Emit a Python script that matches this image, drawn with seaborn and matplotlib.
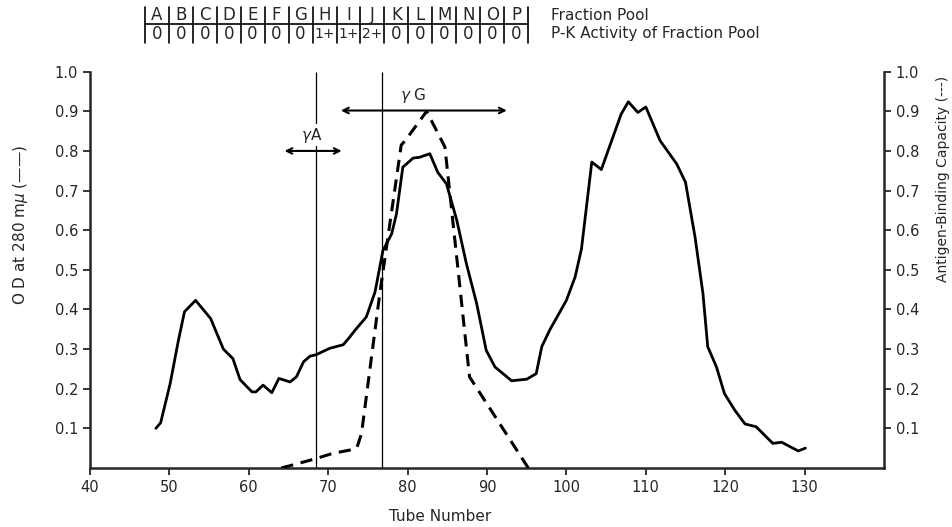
import numpy as np
import pandas as pd
import matplotlib.pyplot as plt
import seaborn as sns
from matplotlib.transforms import blended_transform_factory
from matplotlib.lines import Line2D

# OD at 280 m-mu (solid curve)
tube_od = [48.3, 48.9, 50.1, 51.1, 51.9, 53.3, 55.2, 56.8, 58.0, 58.9,
           60.4, 60.9, 61.8, 62.9, 63.8, 65.2, 66.0, 66.9, 67.7, 68.5,
           70.2, 71.9, 72.7, 73.4, 74.8, 75.9, 76.9, 78.0, 78.6, 79.4,
           80.7, 81.5, 82.8, 83.8, 84.9, 86.2, 87.4, 88.7, 89.9, 91.0,
           93.1, 95.0, 96.2, 96.9, 97.9, 100.0, 101.1, 101.9, 103.2, 104.4,
           106.9, 107.8, 109.0, 110.0, 111.8, 113.9, 115.0, 116.2, 117.2, 117.8,
           118.9, 119.9, 121.2, 122.5, 123.9, 126.0, 127.1, 129.2, 130.1]
od_280 = [0.10, 0.114, 0.213, 0.318, 0.394, 0.423, 0.377, 0.30, 0.276, 0.223,
          0.192, 0.192, 0.209, 0.19, 0.226, 0.217, 0.23, 0.268, 0.282, 0.286,
          0.302, 0.311, 0.33, 0.348, 0.381, 0.444, 0.549, 0.591, 0.641, 0.759,
          0.782, 0.784, 0.793, 0.746, 0.717, 0.625, 0.516, 0.415, 0.297, 0.255,
          0.22, 0.224, 0.238, 0.306, 0.348, 0.423, 0.482, 0.553, 0.772, 0.753,
          0.893, 0.924, 0.897, 0.911, 0.826, 0.767, 0.721, 0.583, 0.44, 0.306,
          0.255, 0.188, 0.146, 0.111, 0.104, 0.062, 0.065, 0.043, 0.05]

# antigen-binding capacity (dashed curve)
tube_abc = [64.1, 66.0, 68.5, 70.6, 72.7, 73.6, 74.2, 76.5, 79.2, 79.7, 82.4, 84.7, 87.8, 95.2]
abc = [0.0, 0.01, 0.024, 0.037, 0.045, 0.05, 0.087, 0.44, 0.815, 0.826, 0.90, 0.81, 0.23, 0.0]

boundaries = [68.5, 76.8]
fractions = list("ABCDEFGHIJKLMNOP")
pk_activity = ["0"] * 7 + ["1+", "1+", "2+"] + ["0"] * 6

sns.set_style("ticks")
plt.rcParams['font.family'] = ['DejaVu Sans']

fig = plt.figure(figsize=(9.53, 5.27), dpi=100)
ax = fig.add_axes([0.0944, 0.112, 0.8332, 0.752])

od_df = pd.DataFrame({"tube": tube_od, "od": od_280})
abc_df = pd.DataFrame({"tube": tube_abc, "abc": abc})

sns.lineplot(data=od_df, x="tube", y="od", ax=ax, color="black", lw=2.0)
ax2 = ax.twinx()
sns.lineplot(data=abc_df, x="tube", y="abc", ax=ax2, color="black", lw=2.2,
             linestyle=(0, (4, 2.5)))

ax.vlines(boundaries, 0, 1.0, color="black", lw=0.9)

for a in (ax, ax2):
    a.set_xlim(40, 140)
    a.set_ylim(0, 1.0)
    a.spines["top"].set_visible(False)
    for s in a.spines.values():
        s.set_linewidth(1.8)
    a.set_xlabel("")
    a.set_ylabel("")
    a.tick_params(direction="out", length=5, width=1.3, labelsize=10.5)

ax2.spines["left"].set_visible(False)
ax2.spines["bottom"].set_visible(False)
ax.spines["right"].set_visible(False)

yt = [0.1, 0.2, 0.3, 0.4, 0.5, 0.6, 0.7, 0.8, 0.9, 1.0]
ax.set_yticks(yt)
ax.set_yticklabels([f"{v:.1f}" for v in yt])
ax2.set_yticks(yt)
ax2.set_yticklabels([f"{v:.1f}" for v in yt])
ax.set_xticks(range(40, 131, 10))

# gamma-A and gamma-G ranges
ax.annotate("", xy=(64.5, 0.80), xytext=(71.7, 0.80),
            arrowprops=dict(arrowstyle="<->", lw=1.5, color="black", shrinkA=0, shrinkB=0))
ax.annotate("", xy=(71.6, 0.902), xytext=(92.5, 0.902),
            arrowprops=dict(arrowstyle="<->", lw=1.5, color="black", shrinkA=0, shrinkB=0))
ax.text(67.9, 0.84, "$\\gamma$A", ha="center", va="center", fontsize=11,
        bbox=dict(facecolor="white", edgecolor="none", pad=1))
ax.text(80.7, 0.94, "$\\gamma$ G", ha="center", va="center", fontsize=11)

fig.text(0.021, 0.573, "O D at 280 m$\\mu$ (——)", rotation=90, ha="center", va="center", fontsize=11)
fig.text(0.989, 0.66, "Antigen-Binding Capacity (---)", rotation=90, ha="center", va="center",
         fontsize=10)
fig.text(0.462, 0.02, "Tube Number", ha="center", va="center", fontsize=11)

# fraction pool table on top
tr = blended_transform_factory(ax.transData, fig.transFigure)
edges = np.linspace(46.9, 95.2, len(fractions) + 1)
y_top, y_mid, y_bot = 1 - 7 / 527, 1 - 24 / 527, 1 - 43 / 527
for e in edges:
    fig.add_artist(Line2D([e, e], [y_bot, y_top], transform=tr, color="black", lw=1.2))
fig.add_artist(Line2D([edges[0], edges[-1]], [y_mid, y_mid], transform=tr, color="black", lw=1.2))
for i in range(len(fractions)):
    xc = (edges[i] + edges[i + 1]) / 2
    fig.text(xc, 1 - 15 / 527, fractions[i], transform=tr, ha="center", va="center", fontsize=12)
    fig.text(xc, 1 - 34 / 527, pk_activity[i], transform=tr, ha="center", va="center",
             fontsize=12 if pk_activity[i] == "0" else 10)
fig.text(0.578, 1 - 15 / 527, "Fraction Pool", ha="left", va="center", fontsize=11)
fig.text(0.578, 1 - 34 / 527, "P-K Activity of Fraction Pool", ha="left", va="center", fontsize=11)

fig.savefig("out.png", dpi=100)
